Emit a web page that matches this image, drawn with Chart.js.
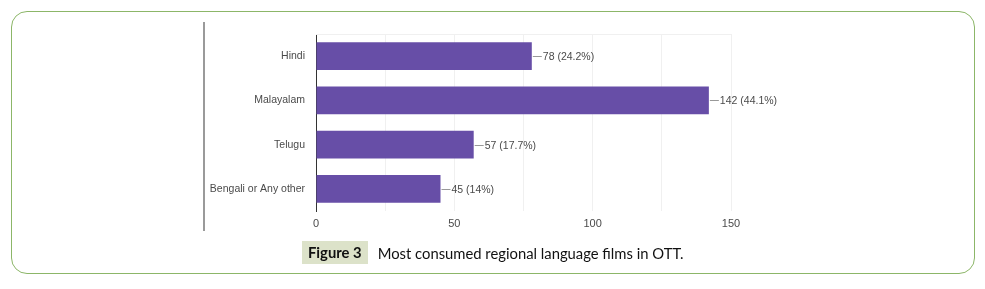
<!DOCTYPE html>
<html>
<head>
<meta charset="utf-8">
<script src="https://cdn.jsdelivr.net/npm/chart.js@4"></script>
<style>
  html, body { margin: 0; padding: 0; background: #fff; }
  body { width: 985px; height: 289px; position: relative; overflow: hidden; }
  #frame {
    position: absolute; left: 11px; top: 11px; width: 962px; height: 261px;
    border: 1.5px solid #8cb668; border-radius: 16px;
  }
  #sep { position: absolute; left: 203px; top: 22px; width: 2px; height: 209px; background: #9a9a9a; }
  #wrap { position: absolute; left: 0; top: 0; width: 985px; height: 289px; }
  #caption {
    position: absolute; left: 302px; top: 241px; height: 23px;
    font-family: Lato, "Open Sans", sans-serif; font-size: 14.8px; color: #111;
    display: flex; align-items: center; white-space: nowrap;
  }
  #caption b {
    background: #dce2c9; padding: 0 6px; height: 23px; line-height: 23px;
    margin-right: 10px; font-weight: 700;
  }
</style>
</head>
<body>
<div id="frame"></div>
<div id="sep"></div>
<div id="wrap"><canvas id="myChart" width="985" height="289"></canvas></div>
<div id="caption"><b>Figure 3</b>Most consumed regional language films in OTT.</div>
<script>
var languages = ['Hindi', 'Malayalam', 'Telugu', 'Bengali or Any other'];
var counts = [78, 142, 57, 45];
var percents = ['24.2', '44.1', '17.7', '14'];
var xTicks = [0, 50, 100, 150];
var xGridSteps = [0, 25, 50, 75, 100, 125, 150];

var barColor = '#674ea7';
var textColor = '#4a4a4a';
var labelFont = '"Liberation Sans", Arial, sans-serif';

// leader line + "value (pct%)" next to each bar
var barLabels = {
    id: 'barLabels',
    afterDatasetsDraw: function(chart){
        var ctx = chart.ctx;
        var bars = chart.getDatasetMeta(0).data;
        ctx.save();
        ctx.font = '10.5px ' + labelFont;
        ctx.fillStyle = textColor;
        ctx.strokeStyle = '#999';
        ctx.lineWidth = 1;
        ctx.textBaseline = 'middle';
        for(var i = 0; i < bars.length; i++){
            var b = bars[i];
            var yy = Math.round(b.y) + 0.5;
            ctx.beginPath();
            ctx.moveTo(b.x + 1, yy);
            ctx.lineTo(b.x + 10, yy);
            ctx.stroke();
            ctx.fillText(counts[i] + ' (' + percents[i] + '%)', b.x + 11, b.y + 1);
        }
        ctx.restore();
    },
    beforeDatasetsDraw: function(chart){
        // faint top frame line of the plot
        var a = chart.chartArea, ctx = chart.ctx;
        ctx.save();
        ctx.strokeStyle = '#f0f0f0';
        ctx.beginPath();
        ctx.moveTo(a.left, a.top + 0.5);
        ctx.lineTo(a.right, a.top + 0.5);
        ctx.stroke();
        ctx.restore();
    }
};

var ctx = document.getElementById('myChart').getContext('2d');
var myChart = new Chart(ctx, {
    type: 'bar',
    data: {
        labels: languages,
        datasets: [{
            data: counts,
            backgroundColor: barColor,
            borderWidth: 0,
            barPercentage: 0.8,
            categoryPercentage: 0.79
        }]
    },
    options: {
        indexAxis: 'y',
        responsive: false,
        animation: false,
        devicePixelRatio: 1,
        layout: { padding: { left: 200, right: 254, top: 34, bottom: 58 } },
        plugins: { legend: { display: false }, tooltip: { enabled: false } },
        scales: {
            x: {
                min: 0, max: 150,
                afterFit: function(s){ s.height = 20; },
                afterBuildTicks: function(s){
                    s.ticks = xGridSteps.map(function(v){ return { value: v }; });
                },
                ticks: {
                    autoSkip: false,
                    maxRotation: 0,
                    padding: 6,
                    color: textColor,
                    font: { family: labelFont, size: 11 },
                    callback: function(v){ return xTicks.indexOf(v) >= 0 ? String(v) : ''; }
                },
                grid: {
                    color: function(c){ return c.tick && c.tick.value === 0 ? '#333' : '#f0f0f0'; },
                    drawTicks: false
                },
                border: { display: false }
            },
            y: {
                afterFit: function(s){ s.width = 116; },
                ticks: {
                    padding: 11,
                    color: textColor,
                    font: { family: labelFont, size: 10.5 }
                },
                grid: { display: false, drawTicks: false },
                border: { display: true, color: '#333', width: 1 }
            }
        }
    },
    plugins: [barLabels]
});
</script>
</body>
</html>
